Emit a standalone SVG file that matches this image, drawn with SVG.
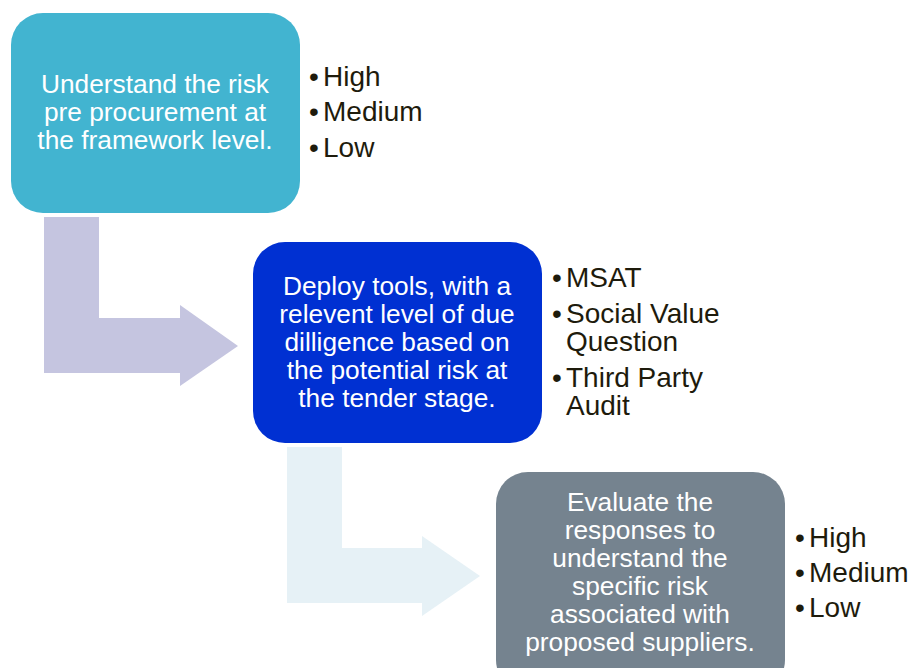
<svg xmlns="http://www.w3.org/2000/svg" width="912" height="668" viewBox="0 0 912 668">
  <style>
    .box-text { font-family: "Liberation Sans", Arial, sans-serif; font-size: 26.3px; fill: #ffffff; text-anchor: middle; }
    .bullet { font-family: "Liberation Sans", Arial, sans-serif; font-size: 28px; fill: #1e1b0c; }
  </style>
  <rect width="912" height="668" fill="#ffffff"/>

  <!-- bent arrows linking the steps -->
  <g id="connectors">
    <path d="M44,217 H99 V318 H180 V305 L238,346 L180,386 V373 H44 Z" fill="#c5c5e0"/>
    <path d="M287,447 H342 V548 H422 V536 L480,576 L422,616 V603 H287 Z" fill="#e6f1f6"/>
  </g>

  <g id="step-1">
    <rect x="11" y="13" width="289" height="200" rx="32" fill="#42b4d0"/>
    <text class="box-text" x="155" y="93">Understand the risk</text>
    <text class="box-text" x="155" y="121">pre procurement at</text>
    <text class="box-text" x="155" y="149">the framework level.</text>
  </g>
  <g id="step-1-list">
    <text class="bullet" y="86"><tspan x="309">•</tspan><tspan x="323">High</tspan></text>
    <text class="bullet" y="121"><tspan x="309">•</tspan><tspan x="323">Medium</tspan></text>
    <text class="bullet" y="157"><tspan x="309">•</tspan><tspan x="323">Low</tspan></text>
  </g>

  <g id="step-2">
    <rect x="253" y="242" width="289" height="201" rx="32" fill="#0030d2"/>
    <text class="box-text" x="397" y="295">Deploy tools, with a</text>
    <text class="box-text" x="397" y="323">relevent level of due</text>
    <text class="box-text" x="397" y="351">dilligence based on</text>
    <text class="box-text" x="397" y="379">the potential risk at</text>
    <text class="box-text" x="397" y="407">the tender stage.</text>
  </g>
  <g id="step-2-list">
    <text class="bullet" y="287"><tspan x="552">•</tspan><tspan x="566">MSAT</tspan></text>
    <text class="bullet" y="323"><tspan x="552">•</tspan><tspan x="566">Social Value</tspan></text>
    <text class="bullet" x="566" y="351">Question</text>
    <text class="bullet" y="387"><tspan x="552">•</tspan><tspan x="566">Third Party</tspan></text>
    <text class="bullet" x="566" y="415">Audit</text>
  </g>

  <g id="step-3">
    <rect x="496" y="472" width="289" height="220" rx="32" fill="#75838f"/>
    <text class="box-text" x="640" y="511">Evaluate the</text>
    <text class="box-text" x="640" y="539">responses to</text>
    <text class="box-text" x="640" y="567">understand the</text>
    <text class="box-text" x="640" y="595">specific risk</text>
    <text class="box-text" x="640" y="623">associated with</text>
    <text class="box-text" x="640" y="651">proposed suppliers.</text>
  </g>
  <g id="step-3-list">
    <text class="bullet" y="547"><tspan x="795">•</tspan><tspan x="809">High</tspan></text>
    <text class="bullet" y="582"><tspan x="795">•</tspan><tspan x="809">Medium</tspan></text>
    <text class="bullet" y="617"><tspan x="795">•</tspan><tspan x="809">Low</tspan></text>
  </g>
</svg>
